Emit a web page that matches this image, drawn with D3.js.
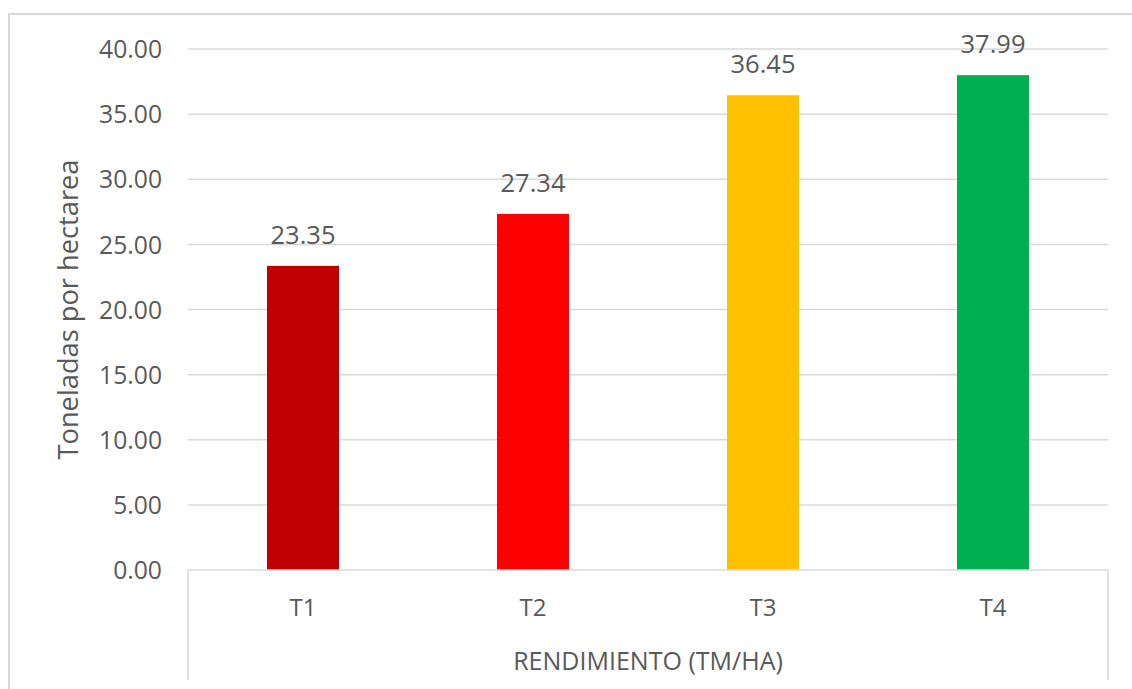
<!DOCTYPE html>
<html><head><meta charset="utf-8">
<script src="https://cdn.jsdelivr.net/npm/d3@7"></script>
<style>html,body{margin:0;padding:0;background:#fff;overflow:hidden}</style>
</head><body>
<svg id="c" width="1132" height="689"></svg>
<script>
const categories = ["T1", "T2", "T3", "T4"];
const values = [23.35, 27.34, 36.45, 37.99];
const barColors = ["#C00000", "#FF0000", "#FFC000", "#00B050"];
const yTicks = [0, 5, 10, 15, 20, 25, 30, 35, 40];
const yTitle = "Toneladas por hectarea";
const xTitle = "RENDIMIENTO (TM/HA)";

const FONT = "'Open Sans', 'Noto Sans', sans-serif";
const TEXT = "#595959";
const GRID = "#D9D9D9";

const svg = d3.select("#c");
const m = {left: 188, right: 1108, top: 49, bottom: 570};

// measure helper to pick font size for a target width
function fitSize(txt, target) {
  const t = svg.append("text").attr("font-family", FONT).attr("font-size", 100).text(txt);
  const w = t.node().getComputedTextLength();
  t.remove();
  return 100 * target / w;
}
const tickSize = fitSize("40.00", 63);
const valSize = fitSize("23.35", 65);
const catSize = fitSize("T1", 27);
const xTitleSize = fitSize(xTitle, 270);
const yTitleSize = fitSize(yTitle, 300);

// chart border
svg.append("rect").attr("x", 9).attr("y", 14).attr("width", 1300).attr("height", 900)
  .attr("fill", "none").attr("stroke", GRID).attr("stroke-width", 2);

const x = d3.scaleBand().domain(categories).range([m.left, m.right]).paddingInner(0.687).paddingOuter(0.3435);
const y = d3.scaleLinear().domain([0, 40]).range([m.bottom, m.top]);

// gridlines
svg.append("g").selectAll("line").data(yTicks.filter(d => d > 0)).join("line")
  .attr("x1", m.left).attr("x2", m.right)
  .attr("y1", d => y(d)).attr("y2", d => y(d))
  .attr("stroke", GRID).attr("stroke-width", 1.5);

// y tick labels via axis
const yAxis = d3.axisLeft(y).tickValues(yTicks).tickFormat(d3.format(".2f")).tickSize(0).tickPadding(26);
const ya = svg.append("g").attr("transform", `translate(${m.left},0)`).call(yAxis);
ya.select(".domain").remove();
ya.selectAll("text").attr("font-family", FONT).attr("font-size", tickSize).attr("fill", TEXT).attr("dy", "0.35em");

// bars
svg.append("g").selectAll("rect").data(values).join("rect")
  .attr("x", (d, i) => x(categories[i]))
  .attr("width", x.bandwidth())
  .attr("y", d => y(d))
  .attr("height", d => y(0) - y(d))
  .attr("fill", (d, i) => barColors[i]);

// value labels
svg.append("g").selectAll("text").data(values).join("text")
  .attr("x", (d, i) => x(categories[i]) + x.bandwidth() / 2)
  .attr("y", d => y(d) - 22)
  .attr("text-anchor", "middle")
  .attr("font-family", FONT).attr("font-size", valSize).attr("fill", TEXT)
  .text(d => d3.format(".2f")(d));

// category axis
const xa = svg.append("g").attr("transform", `translate(0,${m.bottom})`)
  .call(d3.axisBottom(x).tickSize(0).tickPadding(0));
xa.select(".domain").remove();
xa.selectAll("text").attr("font-family", FONT).attr("font-size", catSize).attr("fill", TEXT)
  .attr("dy", 0).attr("y", 46);

svg.append("line").attr("x1", m.left).attr("x2", m.right).attr("y1", m.bottom).attr("y2", m.bottom)
  .attr("stroke", GRID).attr("stroke-width", 1.5);
[m.left, m.right].forEach(xx => {
  svg.append("line").attr("x1", xx).attr("x2", xx).attr("y1", m.bottom).attr("y2", 680)
    .attr("stroke", GRID).attr("stroke-width", 1.5);
});

// x title
svg.append("text").attr("x", (m.left + m.right) / 2).attr("y", 670)
  .attr("text-anchor", "middle").attr("font-family", FONT).attr("font-size", xTitleSize)
  .attr("fill", TEXT).text(xTitle);

// y title
svg.append("text").attr("transform", `translate(78,${(m.top + m.bottom) / 2}) rotate(-90)`)
  .attr("text-anchor", "middle").attr("font-family", FONT).attr("font-size", yTitleSize)
  .attr("fill", TEXT).text(yTitle);
</script>
</body></html>
